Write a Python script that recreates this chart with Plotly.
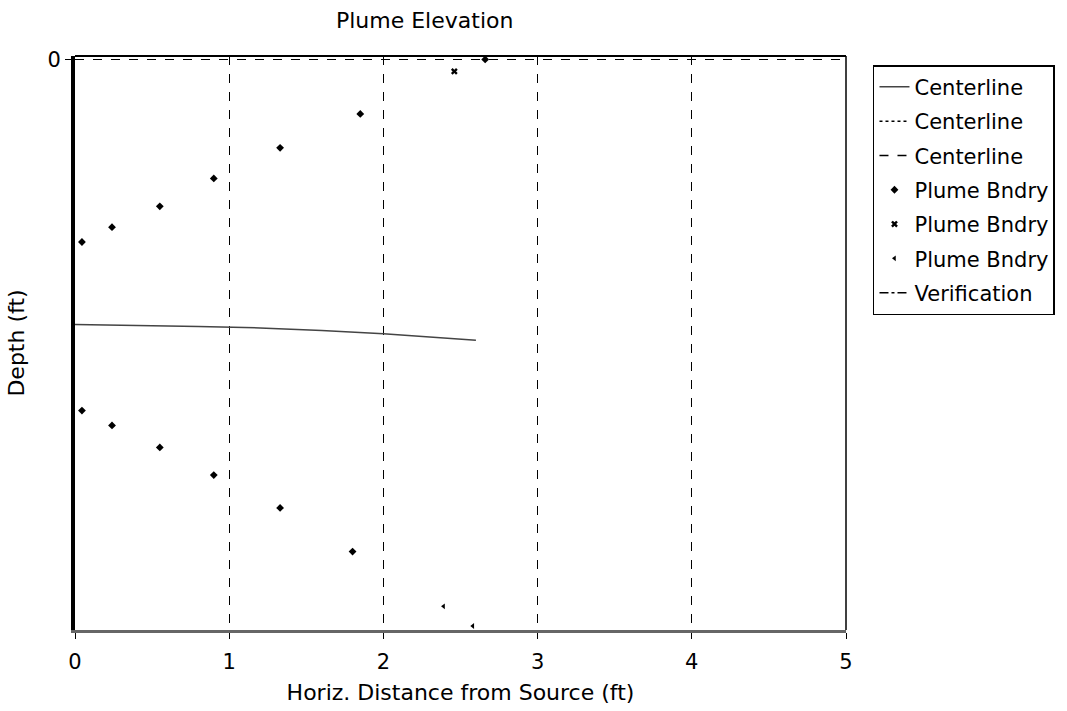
import plotly.graph_objects as go

# Centerline (depth in ft, negative downward)
center_x = [0.0, 0.4, 0.8, 1.2, 1.6, 2.0, 2.3, 2.6]
center_y = [-0.929, -0.932, -0.936, -0.941, -0.950, -0.962, -0.972, -0.984]

# Plume boundary series 1
bnd1_x = [0.045, 0.24, 0.55, 0.90, 1.33, 1.85, 2.66,
          0.045, 0.24, 0.55, 0.90, 1.33, 1.80]
bnd1_y = [-0.640, -0.588, -0.515, -0.417, -0.310, -0.191, 0.0,
          -1.231, -1.283, -1.360, -1.457, -1.572, -1.725]
# Plume boundary series 2
bnd2_x = [2.46]
bnd2_y = [-0.042]
# Plume boundary series 3
bnd3_x = [2.39, 2.58]
bnd3_y = [-1.917, -1.986]

x_ticks = [0, 1, 2, 3, 4, 5]
y_ticks = [0]

FONT = "DejaVu Sans"

fig = go.Figure()
fig.add_trace(go.Scatter(x=center_x, y=center_y, mode="lines", name="Centerline",
                         legendgroup="g1",
                         line=dict(color="#444444", width=1.5)))
fig.add_trace(go.Scatter(x=[None], y=[None], mode="lines", name="Centerline",
                         legendgroup="g2",
                         line=dict(color="black", width=1.5, dash="dot")))
fig.add_trace(go.Scatter(x=[None], y=[None], mode="lines", name="Centerline",
                         legendgroup="g3",
                         line=dict(color="black", width=1.5, dash="dash")))
fig.add_trace(go.Scatter(x=bnd1_x, y=bnd1_y, mode="markers", name="Plume Bndry",
                         legendgroup="g4",
                         marker=dict(symbol="diamond", size=6, color="black")))
fig.add_trace(go.Scatter(x=bnd2_x, y=bnd2_y, mode="markers", name="Plume Bndry",
                         legendgroup="g5",
                         marker=dict(symbol="x", size=6, color="black")))
fig.add_trace(go.Scatter(x=bnd3_x, y=bnd3_y, mode="markers", name="Plume Bndry",
                         legendgroup="g6",
                         marker=dict(symbol="triangle-left", size=5, color="black")))
fig.add_trace(go.Scatter(x=[None], y=[None], mode="lines", name="Verification",
                         legendgroup="g7",
                         line=dict(color="black", width=1.5, dash="dashdot")))

# right and top border of plot frame
fig.add_shape(type="line", xref="paper", yref="paper", x0=1, x1=1, y0=0, y1=1,
              line=dict(color="black", width=1.5))
fig.add_shape(type="line", xref="paper", yref="paper", x0=0, x1=1, y0=1, y1=1,
              line=dict(color="black", width=2))

fig.update_layout(
    width=1067, height=711,
    margin=dict(l=75, r=219, t=56, b=81),
    paper_bgcolor="white", plot_bgcolor="white",
    font=dict(family=FONT, size=21, color="black"),
    title=dict(text="Plume Elevation", x=0.398, xanchor="center",
               y=0.972, yanchor="middle", font=dict(size=22, family=FONT)),
    xaxis=dict(range=[0, 5], tickvals=x_ticks, ticktext=[str(v) for v in x_ticks],
               showgrid=True, gridcolor="black", griddash="dash", gridwidth=1,
               showline=True, linecolor="#666666", linewidth=3, mirror=False,
               ticks="outside", ticklen=6, tickcolor="black", zeroline=False,
               ticklabelstandoff=5, tickfont=dict(size=21), automargin=False,
               title=dict(text="Horiz. Distance from Source (ft)", standoff=12,
                          font=dict(size=22))),
    yaxis=dict(range=[-2.0, 0.012], tickvals=y_ticks, ticktext=["0"],
               showgrid=True, gridcolor="black", griddash="dash", gridwidth=1,
               showline=True, linecolor="black", linewidth=4, mirror=False,
               ticks="outside", ticklen=6, tickcolor="black", zeroline=False,
               tickfont=dict(size=21), automargin=False,
               title=dict(text="Depth (ft)", standoff=18, font=dict(size=22))),
    legend=dict(x=1.035, y=0.984, xanchor="left", yanchor="top",
                bordercolor="black", borderwidth=1.5, bgcolor="white",
                font=dict(size=21, family=FONT), itemwidth=30,
                traceorder="grouped", tracegroupgap=4),
    showlegend=True,
)

fig.write_html("out.html", config={"displayModeBar": False},
               post_script="document.body.style.margin='0';document.body.style.overflow='hidden';")
